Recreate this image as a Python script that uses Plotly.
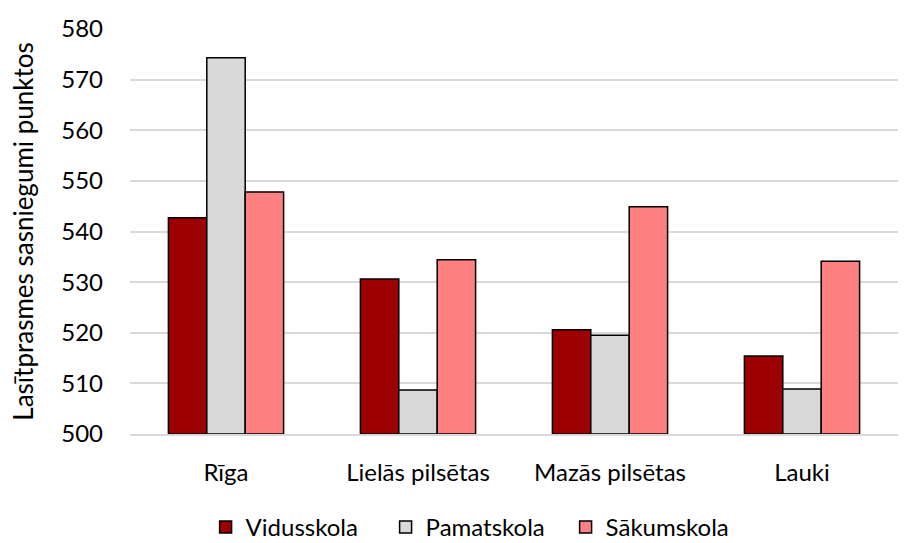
import plotly.graph_objects as go

categories = ["Rīga", "Lielās pilsētas", "Mazās pilsētas", "Lauki"]
series_names = ["Vidusskola", "Pamatskola", "Sākumskola"]
vidusskola = [542.7, 530.6, 520.6, 515.4]
pamatskola = [574.3, 508.7, 519.5, 508.9]
sakumskola = [547.8, 534.4, 544.9, 534.1]
y_ticks = [500, 510, 520, 530, 540, 550, 560, 570, 580]

colors = ["#9c0000", "#d9d9d9", "#ff8080"]
values = [vidusskola, pamatskola, sakumskola]

fig = go.Figure()
for name, vals, c in zip(series_names, values, colors):
    fig.add_trace(go.Bar(
        x=categories, y=[v - 500 for v in vals], base=500, name=name,
        marker=dict(color=c, line=dict(color="black", width=1.5)),
    ))

font_family = "Lato, 'Open Sans', sans-serif"
fig.update_layout(
    width=904, height=543,
    plot_bgcolor="white", paper_bgcolor="white",
    font=dict(family=font_family, size=24, color="black"),
    barmode="group", bargap=0.4, bargroupgap=0,
    margin=dict(l=130, r=6, t=29, b=109, autoexpand=False),
    showlegend=True,
    legend=dict(orientation="h", x=0.45, xanchor="center", y=-0.175, yanchor="top",
                font=dict(size=24), traceorder="normal", itemwidth=30,
                entrywidth=135, entrywidthmode="pixels"),
    xaxis=dict(showline=True, linecolor="#d9d9d9", linewidth=1.5, automargin=False,
               tickfont=dict(size=24), ticks="", ticklabelstandoff=16),
    yaxis=dict(range=[500, 580], tickvals=y_ticks, showgrid=True, automargin=False,
               gridcolor="#d9d9d9", gridwidth=1.5, zeroline=False,
               tickfont=dict(size=24), ticks="", ticklen=0, ticklabelstandoff=26,
               title=dict(text="Lasītprasmes sasniegumi punktos", font=dict(size=26), standoff=20)),
)

fig.write_html("out.html", config={"displayModeBar": False},
               post_script="document.body.style.margin='0';document.body.style.overflow='hidden';")
